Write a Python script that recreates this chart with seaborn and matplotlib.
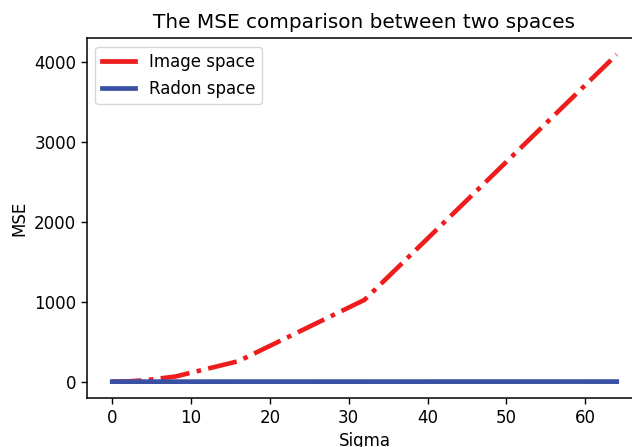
import matplotlib
matplotlib.use("Agg")
import matplotlib.pyplot as plt
import seaborn as sns
import pandas as pd

sigma = [0, 1, 2, 4, 8, 16, 32, 64]
mse_image = [0, 1, 4, 16, 64, 256, 1024, 4096]
mse_radon = [0, 0.01, 0.02, 0.05, 0.1, 0.2, 0.4, 0.8]

df = pd.DataFrame({
    "Sigma": sigma * 2,
    "MSE": mse_image + mse_radon,
    "space": ["Image space"] * len(sigma) + ["Radon space"] * len(sigma),
})

plt.rcParams["font.family"] = ["DejaVu Sans"]
fig = plt.figure(figsize=(6.32, 4.47), dpi=100)
ax = fig.add_axes([0.1377, 0.1096, 0.878, 0.805])

palette = {"Image space": "#ee1c1c", "Radon space": "#3a50a2"}
sns.lineplot(data=df[df.space == "Image space"], x="Sigma", y="MSE",
             color=palette["Image space"], linestyle="-.", linewidth=3.3,
             label="Image space", ax=ax)
sns.lineplot(data=df[df.space == "Radon space"], x="Sigma", y="MSE",
             color=palette["Radon space"], linestyle="-", linewidth=3.4,
             label="Radon space", ax=ax)

ax.set_title("The MSE comparison between two spaces", fontsize=14.4, pad=7)
ax.set_xlabel("Sigma", fontsize=12, labelpad=4)
ax.set_ylabel("MSE", fontsize=12, labelpad=4)
ax.set_xticks([0, 10, 20, 30, 40, 50, 60])
ax.set_yticks([0, 1000, 2000, 3000, 4000])
ax.tick_params(labelsize=12, length=4.2, width=1)
for s in ax.spines.values():
    s.set_linewidth(1.1)
leg = ax.legend(loc="upper left", fontsize=12)
for line in leg.get_lines():
    line.set_linestyle("-")
    line.set_linewidth(3.4)

fig.savefig("out.png", dpi=100)
